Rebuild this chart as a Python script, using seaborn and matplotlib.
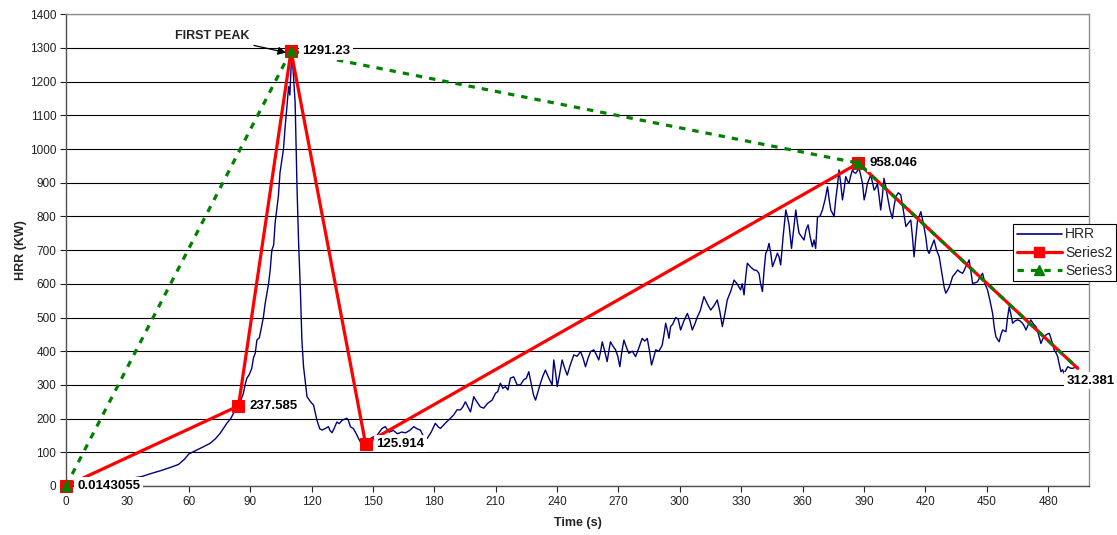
import matplotlib
matplotlib.use("Agg")
import matplotlib.pyplot as plt
from matplotlib.lines import Line2D
import seaborn as sns
import pandas as pd

# ---------------- data ----------------
hrr_t = [0, 5, 10, 15, 20, 25, 30, 34, 37, 41, 46, 51, 55, 58, 60, 62, 64, 67, 70.5, 73, 75.3, 78.6, 80.5, 81.9, 83, 84.3,
         85.5, 86.7, 87.5, 88.4, 89.5, 90.8, 91.6, 92.5, 93.3, 94.5, 95.5, 96.5, 97.3, 98.2, 99, 99.8, 100.6, 101.5,
         102.2, 103, 103.8, 104.6, 105.5, 106.3, 107.1, 107.9, 108.8, 109.4, 110.1, 110.6, 111.2, 112, 112.5, 112.9,
         113.7, 114.5, 115.3, 116.1, 117.8, 119.5, 121, 122.6, 124, 125.1, 126.5, 128.3, 129, 130, 131, 132.4, 133.5,
         135, 136, 137.3, 138, 139, 140.5, 142.2, 143.8, 145.5, 147.1, 148.5, 150.3, 152, 154.5, 156, 158, 160, 162,
         164, 166, 168, 170, 171.5, 173.2, 174.5, 176.5, 178.5, 180.5, 182, 183, 184.6, 186, 187.9, 189.5, 191.1,
         192.8, 194, 195.2, 196.4, 197.7, 199.3, 200.8, 202.5, 204.2, 206, 208.3, 209.9, 211, 212.3, 213.5, 214.8,
         216, 217.2, 218.8, 220.5, 222.1, 223.7, 225, 226.2, 227.5, 228.5, 229.5, 230.7, 231.9, 233, 234.3, 236,
         237.6, 238.4, 239.2, 240.1, 241.2, 242.5, 243.7, 245, 246.5, 248.2, 249.8, 251.5, 252.7, 253.9, 255.2,
         256.4, 258, 259.2, 260.4, 261.3, 262.1, 263.3, 264.5, 265.3, 266.1, 267.3, 268.6, 269.7, 270.7, 271.7,
         272.7, 274, 275.1, 276.8, 278.4, 280, 281.6, 282.9, 284.1, 285.2, 286.2, 287.2, 288.2, 289.8, 291.4, 292.3,
         293.1, 294, 294.7, 295.5, 296.5, 298, 299.2, 300.4, 302, 303.7, 305, 306.1, 307.3, 308.6, 310, 311.8, 313.5,
         315.1, 316.7, 318.3, 319.5, 320.8, 322, 323.2, 325, 326.5, 328, 329.7, 330.5, 331.4, 332.2, 333, 334.6,
         336.3, 337.5, 338.7, 339.5, 340.4, 341.2, 342, 342.8, 343.6, 344.5, 345.3, 346.5, 347.7, 348.5, 349.3,
         350.5, 351.8, 352.6, 353.4, 354, 354.6, 355.6, 356.7, 357.5, 358.3, 359.5, 360.7, 361.7, 362.7, 363.7,
         364.8, 365.6, 366.4, 367.3, 368.5, 369.7, 371, 372.2, 373, 373.8, 374.6, 375.4, 376.2, 377, 377.8, 378.6,
         379.5, 380.3, 381.1, 382, 382.7, 383.5, 384.4, 385.2, 386, 386.8, 387.6, 388.5, 389.3, 390.1, 390.9, 391.7,
         392.5, 393.3, 394.2, 395, 395.8, 396.6, 397.4, 398.2, 399, 399.8, 400.6, 401.5, 402.7, 403.9, 404.7, 405.6,
         406.8, 408, 409.2, 410.5, 411.7, 412.9, 413.7, 414.5, 415.4, 416.2, 417, 417.8, 419, 420.2, 421, 421.9,
         423, 424.3, 425.5, 426.8, 427.6, 428.4, 429.2, 430, 430.8, 431.7, 432.5, 433.3, 434.5, 435.8, 437, 438.2,
         439, 439.8, 440.6, 441.4, 442.2, 443.1, 444.3, 445.5, 446.7, 448, 449.2, 450.4, 451.6, 452.9, 453.7, 454.5,
         455.3, 456.1, 457, 457.8, 458.6, 459.4, 460.2, 461, 461.8, 462.7, 463.9, 465.1, 466.3, 467.5, 468.3, 469.2,
         470.4, 471.6, 472.9, 474.1, 475.3, 476.5, 477.3, 478.1, 479.3, 480.6, 481.8, 483, 483.9, 484.7, 485.5,
         486.3, 487.1, 487.9, 488.8, 489.6, 490.8, 492, 493.2, 494.5]
hrr_v = [0, 3, 6, 9, 13, 17, 21, 25, 28, 36, 45, 55, 64, 80, 95, 101, 107, 116, 127, 140, 156, 186, 200, 216, 225, 235,
         255, 275, 300, 320, 330, 349, 380, 394, 433, 440, 470, 502, 540, 572, 600, 641, 700, 715,
         780, 819, 860, 930, 967, 1000, 1066, 1120, 1185, 1160, 1254, 1270, 1215, 1136, 1000, 888,
         720, 591, 433, 354, 265, 250, 240, 196, 170, 166, 170, 176, 165, 158, 170, 190, 185,
         195, 198, 201, 195, 176, 170, 151, 131, 136, 136, 140, 146, 150, 171, 176, 160, 165, 155,
         160, 158, 165, 176, 170, 166, 150, 141, 160, 186, 175, 171, 181, 190, 201, 211, 226,
         226, 235, 250, 235, 220, 265, 250, 235, 231, 245, 255, 275, 280, 305, 290, 295,
         285, 320, 324, 300, 300, 315, 320, 339, 300, 270, 255, 280, 305, 325, 344, 320,
         300, 374, 340, 295, 330, 374, 350, 329, 360, 389, 385, 399, 380, 354, 380,
         399, 404, 390, 374, 400, 428, 400, 369, 400, 428, 415, 404, 385, 354, 400,
         433, 410, 394, 400, 384, 410, 438, 430, 438, 400, 359, 380, 404, 400, 418, 450,
         483, 460, 438, 473, 480, 500, 495, 463, 490, 512, 490, 463, 480, 502, 520, 562, 540,
         522, 535, 552, 520, 473, 510, 552, 580, 611, 600, 582, 600, 567, 620, 661, 650,
         641, 640, 631, 600, 577, 640, 691, 700, 720, 690, 651, 670, 691, 680, 656,
         740, 819, 800, 775, 740, 705, 760, 819, 780, 750, 740, 730, 760, 775, 740,
         710, 730, 705, 799, 800, 819, 850, 888, 850, 819, 810, 799, 850, 888, 938, 900,
         849, 880, 918, 905, 898, 920, 938, 930, 928, 935, 943, 920, 898, 849, 870, 898,
         910, 923, 900, 878, 885, 898, 860, 819, 860, 913, 890, 859, 820, 794, 830, 859,
         870, 864, 820, 770, 780, 789, 740, 680, 740, 789, 800, 814, 780, 740, 700, 690,
         710, 730, 700, 680, 650, 621, 590, 572, 580, 591, 605, 621, 630, 641, 635, 631,
         640, 651, 660, 671, 640, 601, 603, 606, 620, 631, 600, 582, 550, 512, 470, 443,
         435, 428, 450, 463, 460, 458, 500, 532, 510, 483, 490, 493, 490, 483, 475, 463,
         480, 493, 480, 473, 450, 423, 435, 443, 450, 453, 430, 404, 395, 384, 360,
         339, 345, 334, 345, 354, 350, 349, 352, 354]

s2_t = [0, 84.3, 110, 146.4, 387.3, 494.5]
s2_v = [0.0143055, 237.585, 1291.23, 125.914, 958.046, 349]
s3_t = [0, 110, 387.3, 494.5]
s3_v = [0.0143055, 1291.23, 958.046, 349]

label_t = [0, 84.3, 110, 146.4, 387.3, 494.5]
label_v = [0.0143055, 237.585, 1291.23, 125.914, 958.046, 312.381]
label_txt = ["0.0143055", "237.585", "1291.23", "125.914", "958.046", "312.381"]

x_ticks = list(range(0, 481, 30))
y_ticks = list(range(0, 1401, 100))

# ---------------- style ----------------
sns.set_style("white")
plt.rcParams['font.family'] = ['Liberation Sans', 'DejaVu Sans']

W, H = 1117, 535
fig = plt.figure(figsize=(W / 100, H / 100), dpi=100)
ax = fig.add_axes([66 / W, 1 - 486 / H, 1023 / W, 471.8 / H])

df_h = pd.DataFrame({"t": hrr_t, "v": hrr_v})
df_2 = pd.DataFrame({"t": s2_t, "v": s2_v})
df_3 = pd.DataFrame({"t": s3_t, "v": s3_v})

sns.lineplot(data=df_h, x="t", y="v", ax=ax, sort=False, estimator=None,
             color="#000080", lw=1.0, zorder=3, legend=False)
sns.lineplot(data=df_2, x="t", y="v", ax=ax, sort=False, estimator=None,
             color="#FF0000", lw=2.3, marker="s", markersize=8, markeredgecolor="#FF0000",
             markevery=[0, 1, 2, 3, 4], zorder=4, legend=False, clip_on=False)
sns.lineplot(data=df_3, x="t", y="v", ax=ax, sort=False, estimator=None,
             color="#008000", lw=2.3, linestyle=(0, (2, 2.2)), marker="^", markersize=6.5,
             markeredgecolor="#008000", markevery=[0, 1, 2], zorder=5, legend=False, clip_on=False)

# data labels
for i, (tx, vy, txt) in enumerate(zip(label_t, label_v, label_txt)):
    off = 11 if i < len(label_t) - 1 else -11
    ax.annotate(txt, xy=(tx, vy), xytext=(off, 0), textcoords="offset pixels",
                ha="left", va="center", fontsize=9.5, fontweight="bold", color="black",
                bbox=dict(facecolor="white", edgecolor="none", pad=2.0), zorder=10)

ax.annotate("FIRST PEAK", xy=(107.6, 1286), xytext=(71.4, 1335), textcoords="data",
            ha="center", va="center", fontsize=9, fontweight="bold",
            arrowprops=dict(arrowstyle="-|>", color="black", lw=0.9, shrinkA=1, shrinkB=0,
                            mutation_scale=12), zorder=10)

# axes
ax.set_xlim(0, 500)
ax.set_ylim(0, 1400)
ax.set_xticks(x_ticks)
ax.set_yticks(y_ticks)
ax.grid(axis="y", color="#000000", lw=0.8)
ax.grid(axis="x", visible=False)
ax.set_axisbelow(True)
ax.tick_params(axis="both", which="major", labelsize=8.5, colors="#222222", length=4,
               width=0.8, direction="out", left=True, bottom=True, pad=3)
for s in ["left", "bottom"]:
    ax.spines[s].set_color("#505050")
    ax.spines[s].set_linewidth(1.0)
for s in ["top", "right"]:
    ax.spines[s].set_color("#909090")
    ax.spines[s].set_linewidth(1.0)

ax.set_xlabel("Time (s)", fontsize=9, fontweight="bold")
ax.set_ylabel("HRR (KW)", fontsize=9, fontweight="bold")
ax.xaxis.set_label_coords(0.5, -0.066)
ax.yaxis.set_label_coords(-0.038, 0.5)

handles = [
    Line2D([], [], color="#000080", lw=1.2),
    Line2D([], [], color="#FF0000", lw=2.3, marker="s", markersize=7),
    Line2D([], [], color="#008000", lw=2.3, linestyle=(0, (2, 2.2)), marker="^", markersize=6.5),
]
leg = fig.legend(handles, ["HRR", "Series2", "Series3"], loc="upper right",
                 bbox_to_anchor=(1116 / W, 1 - 224 / H), bbox_transform=fig.transFigure,
                 fontsize=10, frameon=True, fancybox=False, framealpha=1, edgecolor="black",
                 borderpad=0.25, labelspacing=0.3, handlelength=3.3, handletextpad=0.2,
                 borderaxespad=0, numpoints=1)
leg.get_frame().set_linewidth(0.8)

fig.savefig("out.png", dpi=100)
